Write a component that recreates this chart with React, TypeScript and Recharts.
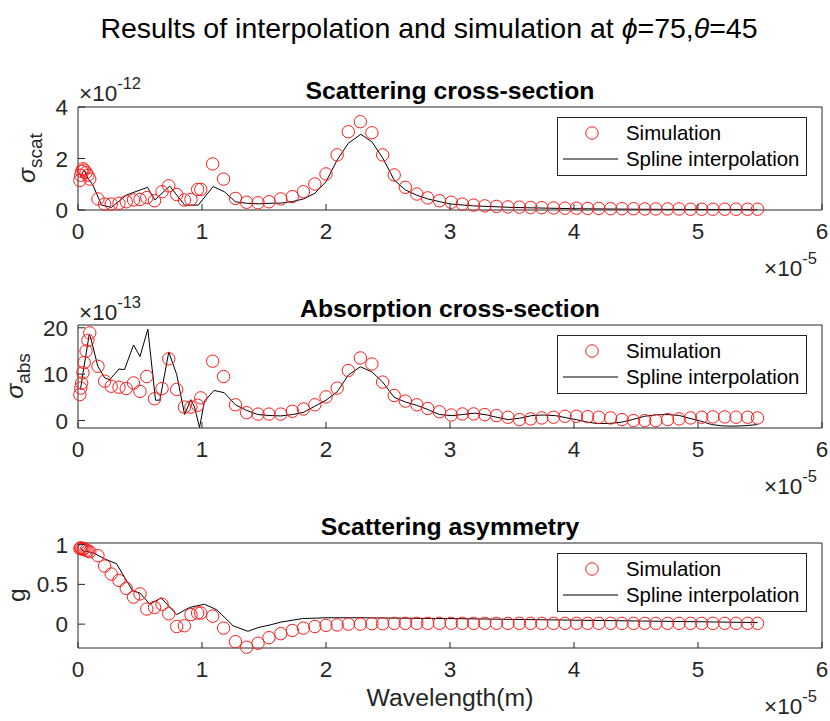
import React from 'react';
import { ComposedChart, Scatter, Line, XAxis, YAxis, Legend } from 'recharts';

const FONT = '"Liberation Sans", Arial, Helvetica, sans-serif';
const INK = '#262626';

// ---------- data (x in units of 1e-5 m) ----------
const xTicks = [0, 1, 2, 3, 4, 5, 6];

const simX = [
  0.015, 0.022, 0.03, 0.04, 0.05, 0.065, 0.08, 0.095,
  0.161, 0.215, 0.268, 0.33, 0.389, 0.448, 0.5, 0.555, 0.617, 0.678, 0.732, 0.796, 0.858, 0.911, 0.965, 0.99,
  1.086, 1.174, 1.27, 1.36, 1.452, 1.54, 1.635, 1.729, 1.818, 1.91, 2.0, 2.09, 2.18, 2.277, 2.37, 2.457, 2.55, 2.64, 2.733, 2.82, 2.915, 3.01,
  3.1, 3.19, 3.28, 3.375, 3.467, 3.56, 3.65, 3.74, 3.835, 3.927, 4.02, 4.11, 4.2, 4.295, 4.387, 4.48, 4.57, 4.66, 4.755, 4.847, 4.94, 5.03, 5.12, 5.215, 5.307, 5.4, 5.48,
];

// scattering cross-section, x1e-12
const scatSim = [
  1.15, 1.35, 1.5, 1.6, 1.55, 1.45, 1.35, 1.2,
  0.43, 0.23, 0.23, 0.26, 0.32, 0.39, 0.41, 0.48, 0.36, 0.71, 0.94, 0.6, 0.39, 0.41, 0.8, 0.8,
  1.79, 1.2, 0.45, 0.3, 0.28, 0.32, 0.43, 0.52, 0.71, 1.01, 1.4, 2.14, 3.04, 3.43, 3.0, 2.14, 1.36, 0.88, 0.62, 0.47, 0.36, 0.3,
  0.23, 0.19, 0.16, 0.14, 0.12, 0.11, 0.1, 0.09, 0.08, 0.07, 0.07, 0.06, 0.06, 0.05, 0.05, 0.05, 0.04, 0.04, 0.04, 0.04, 0.03, 0.03, 0.03, 0.03, 0.03, 0.03, 0.03,
];
// absorption cross-section, x1e-13
const absSim = [
  5.6, 7.0, 8.1, 10.3, 12.5, 15.0, 17.3, 18.9,
  11.7, 8.5, 7.4, 7.2, 6.9, 8.1, 6.3, 9.5, 4.7, 6.9, 13.3, 6.7, 2.9, 2.9, 3.3, 4.9,
  12.8, 9.5, 3.4, 1.7, 1.4, 1.4, 1.4, 2.0, 2.5, 3.4, 5.1, 7.0, 10.8, 13.5, 12.2, 8.3, 5.4, 4.2, 3.4, 2.6, 1.9, 1.2,
  1.43, 1.43, 1.29, 1.07, 0.72, 0.21, 0.36, 0.57, 0.72, 0.93, 0.93, 0.86, 0.72, 0.57, 0.21, 0.0, 0.0, 0.0, 0.21, 0.36, 0.57, 0.72, 0.79, 0.79, 0.72, 0.72, 0.57,
];
// scattering asymmetry g
const gSim = [
  0.95, 0.96, 0.95, 0.94, 0.95, 0.93, 0.92, 0.91,
  0.86, 0.73, 0.63, 0.55, 0.45, 0.34, 0.38, 0.19, 0.21, 0.25, 0.13, -0.03, -0.02, 0.12, 0.14, 0.14,
  0.1, -0.05, -0.22, -0.29, -0.24, -0.17, -0.12, -0.08, -0.05, -0.03, -0.015, -0.01, 0.0, 0.0, 0.005, 0.005, 0.01, 0.01, 0.01, 0.01, 0.01, 0.01,
  0.01, 0.01, 0.01, 0.01, 0.01, 0.01, 0.01, 0.01, 0.01, 0.01, 0.01, 0.01, 0.01, 0.01, 0.01, 0.01, 0.01, 0.01, 0.01, 0.01, 0.01, 0.01, 0.01, 0.01, 0.01, 0.01, 0.01,
];

// spline interpolation curves
const scatLineX = [0.02, 0.05, 0.08, 0.12, 0.19, 0.27, 0.39, 0.56, 0.62, 0.74, 0.86, 0.97, 1.09, 1.18, 1.27, 1.36, 1.46, 1.54, 1.64, 1.73, 1.82, 1.91, 2.0, 2.09, 2.18, 2.28, 2.37, 2.46, 2.55, 2.64, 2.73, 2.82, 2.92, 3.01, 3.19, 3.5, 4.0, 4.5, 5.0, 5.48];
const scatLineY = [1.29, 1.55, 1.23, 0.97, 0.19, 0.1, 0.58, 0.88, 0.39, 0.93, 0.19, 0.19, 0.91, 0.71, 0.32, 0.26, 0.24, 0.26, 0.27, 0.33, 0.43, 0.65, 1.1, 1.94, 2.59, 2.94, 2.65, 2.0, 1.16, 0.78, 0.58, 0.43, 0.32, 0.23, 0.16, 0.1, 0.05, 0.03, 0.02, 0.01];

const absLineX = [0.02, 0.04, 0.09, 0.1, 0.16, 0.215, 0.255, 0.33, 0.375, 0.448, 0.5, 0.563, 0.625, 0.66, 0.732, 0.796, 0.86, 0.91, 0.94, 0.98, 1.02, 1.097, 1.18, 1.27, 1.36, 1.45, 1.54, 1.635, 1.73, 1.82, 1.91, 2.0, 2.09, 2.18, 2.277, 2.37, 2.457, 2.55, 2.64, 2.73, 2.82, 2.915, 3.015, 3.1, 3.2, 3.3, 3.38, 3.47, 3.56, 3.66, 3.75, 3.85, 3.94, 4.02, 4.1, 4.19, 4.29, 4.38, 4.47, 4.57, 4.67, 4.76, 4.85, 4.92, 5.02, 5.11, 5.2, 5.29, 5.38, 5.48];
const absLineY = [6.7, 10.2, 18.5, 18.1, 11.7, 9.2, 8.8, 11.1, 11.0, 16.3, 13.8, 19.7, 4.4, 4.4, 14.8, 9.9, 1.3, 4.5, 2.9, -1.5, 4.2, 6.5, 6.0, 3.4, 2.2, 1.3, 1.1, 1.0, 1.3, 1.8, 3.1, 4.4, 6.2, 9.8, 11.6, 10.5, 8.3, 5.0, 4.0, 3.3, 2.4, 1.3, 1.07, 1.3, 1.6, 1.2, 0.7, 0.2, 0.5, 1.07, 1.2, 1.07, 0.6, 0.2, -0.3, -0.65, -0.6, -0.36, 0.2, 0.93, 1.25, 1.29, 1.1, 0.57, -0.1, -0.86, -1.15, -1.2, -1.1, -0.86];

const gLineX = [0.02, 0.04, 0.08, 0.12, 0.215, 0.31, 0.44, 0.5, 0.58, 0.67, 0.796, 0.9, 1.02, 1.12, 1.25, 1.37, 1.46, 1.55, 1.635, 1.81, 2.0, 2.26, 3.0, 4.0, 5.0, 5.48];
const gLineY = [0.96, 0.92, 0.91, 0.9, 0.82, 0.76, 0.42, 0.39, 0.25, 0.33, 0.12, 0.21, 0.25, 0.18, -0.02, -0.09, -0.04, -0.01, 0.025, 0.07, 0.08, 0.08, 0.07, 0.05, 0.03, 0.02];

const pts = (xs: number[], ys: number[]) => xs.map((x, i) => ({ x, y: ys[i] }));

// ---------- ticks ----------
const BottomTick = (p: any) => (
  <g>
    <line x1={p.x} x2={p.x} y1={p.y} y2={p.y - 6} stroke={INK} strokeWidth={1} />
    <text x={p.x} y={p.y + 29} textAnchor="middle" fontSize={22.5} fontFamily={FONT} fill={INK}>
      {p.payload.value}
    </text>
  </g>
);
const TopTick = (p: any) => <line x1={p.x} x2={p.x} y1={p.y} y2={p.y + 6} stroke={INK} strokeWidth={1} />;
const LeftTick = (p: any) => (
  <g>
    <line x1={p.x} x2={p.x + 7} y1={p.y} y2={p.y} stroke={INK} strokeWidth={1} />
    <text x={p.x - 10} y={p.y} dy="0.36em" textAnchor="end" fontSize={22.5} fontFamily={FONT} fill={INK}>
      {p.payload.value}
    </text>
  </g>
);
const RightTick = (p: any) => <line x1={p.x} x2={p.x - 7} y1={p.y} y2={p.y} stroke={INK} strokeWidth={1} />;

const Ring = (p: any) => <circle cx={p.cx} cy={p.cy} r={6.2} fill="none" stroke="#ff1a1a" strokeWidth={1} />;

const LegendBox = () => (
  <svg width={250} height={59} style={{ display: 'block' }}>
    <rect x={0.5} y={0.5} width={249} height={58} fill="#ffffff" stroke={INK} strokeWidth={1} />
    <circle cx={35} cy={16} r={6.2} fill="none" stroke="#ff1a1a" strokeWidth={1} />
    <text x={69} y={16} dy="0.36em" fontSize={20.4} fontFamily={FONT} fill="#000">Simulation</text>
    <line x1={6} x2={61} y1={42} y2={42} stroke="#000" strokeWidth={1} />
    <text x={69} y={42} dy="0.36em" fontSize={20.4} fontFamily={FONT} fill="#000">Spline interpolation</text>
  </svg>
);

type PanelProps = {
  top: number;
  plotH: number;
  yDomain: [number, number];
  yTicks: number[];
  sim: { x: number; y: number }[];
  line: { x: number; y: number }[];
};

function Panel({ top, plotH, yDomain, yTicks, sim, line }: PanelProps) {
  const W = 830;
  const mt = 10;
  const chartH = mt + 1 + plotH + 40;
  return (
    <div style={{ position: 'absolute', left: 0, top: top - mt - 1, width: W, height: chartH }}>
      <ComposedChart width={W} height={chartH} margin={{ top: mt, right: 7, bottom: 0, left: 18 }}>
        <XAxis xAxisId="b" type="number" dataKey="x" domain={[0, 6]} ticks={xTicks} interval={0}
          orientation="bottom" height={40} tickSize={0} tickMargin={0} tick={<BottomTick />} stroke={INK} />
        <XAxis xAxisId="t" type="number" dataKey="x" domain={[0, 6]} ticks={xTicks} interval={0}
          orientation="top" height={1} tickSize={0} tickMargin={0} tick={<TopTick />} stroke={INK} />
        <YAxis yAxisId="l" type="number" dataKey="y" domain={yDomain} ticks={yTicks} interval={0}
          width={60} tickSize={0} tickMargin={0} tick={<LeftTick />} stroke={INK} />
        <YAxis yAxisId="r" type="number" dataKey="y" domain={yDomain} ticks={yTicks} interval={0}
          orientation="right" width={1} tickSize={0} tickMargin={0} tick={<RightTick />} stroke={INK} />
        <Scatter name="Simulation" xAxisId="b" yAxisId="l" data={sim} dataKey="y" shape={Ring} isAnimationActive={false} />
        <Line name="Spline interpolation" xAxisId="b" yAxisId="l" data={line} dataKey="y" type="linear"
          stroke="#000" strokeWidth={1} dot={false} activeDot={false} isAnimationActive={false} />
        <Legend layout="vertical" align="center" verticalAlign="middle"
          wrapperStyle={{ position: 'absolute', left: 557, top: mt + 1 + 10, width: 250, height: 59 }}
          content={() => <LegendBox />} />
      </ComposedChart>
    </div>
  );
}

const TXT = { fontFamily: FONT } as const;

export default function App() {
  return (
    <div style={{ position: 'absolute', left: 0, top: 0, width: 830, height: 721, background: '#fff' }}>
      <Panel top={107} plotH={103} yDomain={[0, 4]} yTicks={[0, 2, 4]}
        sim={pts(simX, scatSim)} line={pts(scatLineX, scatLineY)} />
      <Panel top={325} plotH={103} yDomain={[-1.6, 20.6]} yTicks={[0, 10, 20]}
        sim={pts(simX, absSim)} line={pts(absLineX, absLineY)} />
      <Panel top={543} plotH={105} yDomain={[-0.3, 1.02]} yTicks={[0, 0.5, 1]}
        sim={pts(simX, gSim)} line={pts(gLineX, gLineY)} />
      <svg width={830} height={721} style={{ position: 'absolute', left: 0, top: 0, pointerEvents: 'none' }}>
        <text x={429} y={38} textAnchor="middle" fontSize={28.5} fill="#000" {...TXT}>
          Results of interpolation and simulation at <tspan fontStyle="italic">ϕ</tspan>=75,<tspan fontStyle="italic">θ</tspan>=45
        </text>

        <text x={450} y={99} textAnchor="middle" fontSize={24.75} fontWeight="bold" fill="#000" {...TXT}>Scattering cross-section</text>
        <text x={450} y={317} textAnchor="middle" fontSize={24.75} fontWeight="bold" fill="#000" {...TXT}>Absorption cross-section</text>
        <text x={450} y={535} textAnchor="middle" fontSize={24.75} fontWeight="bold" fill="#000" {...TXT}>Scattering asymmetry</text>

        <text x={79} y={101} fontSize={22.5} fill={INK} {...TXT}>×10<tspan fontSize={16.5} dy={-12}>-12</tspan></text>
        <text x={79} y={320} fontSize={22.5} fill={INK} {...TXT}>×10<tspan fontSize={16.5} dy={-12}>-13</tspan></text>

        <text x={764} y={276} fontSize={22.5} fill={INK} {...TXT}>×10<tspan fontSize={16.5} dy={-12}>-5</tspan></text>
        <text x={764} y={494} fontSize={22.5} fill={INK} {...TXT}>×10<tspan fontSize={16.5} dy={-12}>-5</tspan></text>
        <text x={764} y={714} fontSize={22.5} fill={INK} {...TXT}>×10<tspan fontSize={16.5} dy={-12}>-5</tspan></text>

        <text transform="rotate(-90 35 158)" x={35} y={158} textAnchor="middle" fontSize={24.75} fill={INK} {...TXT}>
          <tspan fontStyle="italic">σ</tspan><tspan fontSize={19} dy={7}>scat</tspan>
        </text>
        <text transform="rotate(-90 23 376)" x={23} y={376} textAnchor="middle" fontSize={24.75} fill={INK} {...TXT}>
          <tspan fontStyle="italic">σ</tspan><tspan fontSize={19} dy={7}>abs</tspan>
        </text>
        <text transform="rotate(-90 25 595)" x={25} y={595} textAnchor="middle" fontSize={24.75} fill={INK} {...TXT}>g</text>

        <text x={450} y={706} textAnchor="middle" fontSize={24.75} fill={INK} {...TXT}>Wavelength(m)</text>
      </svg>
    </div>
  );
}
